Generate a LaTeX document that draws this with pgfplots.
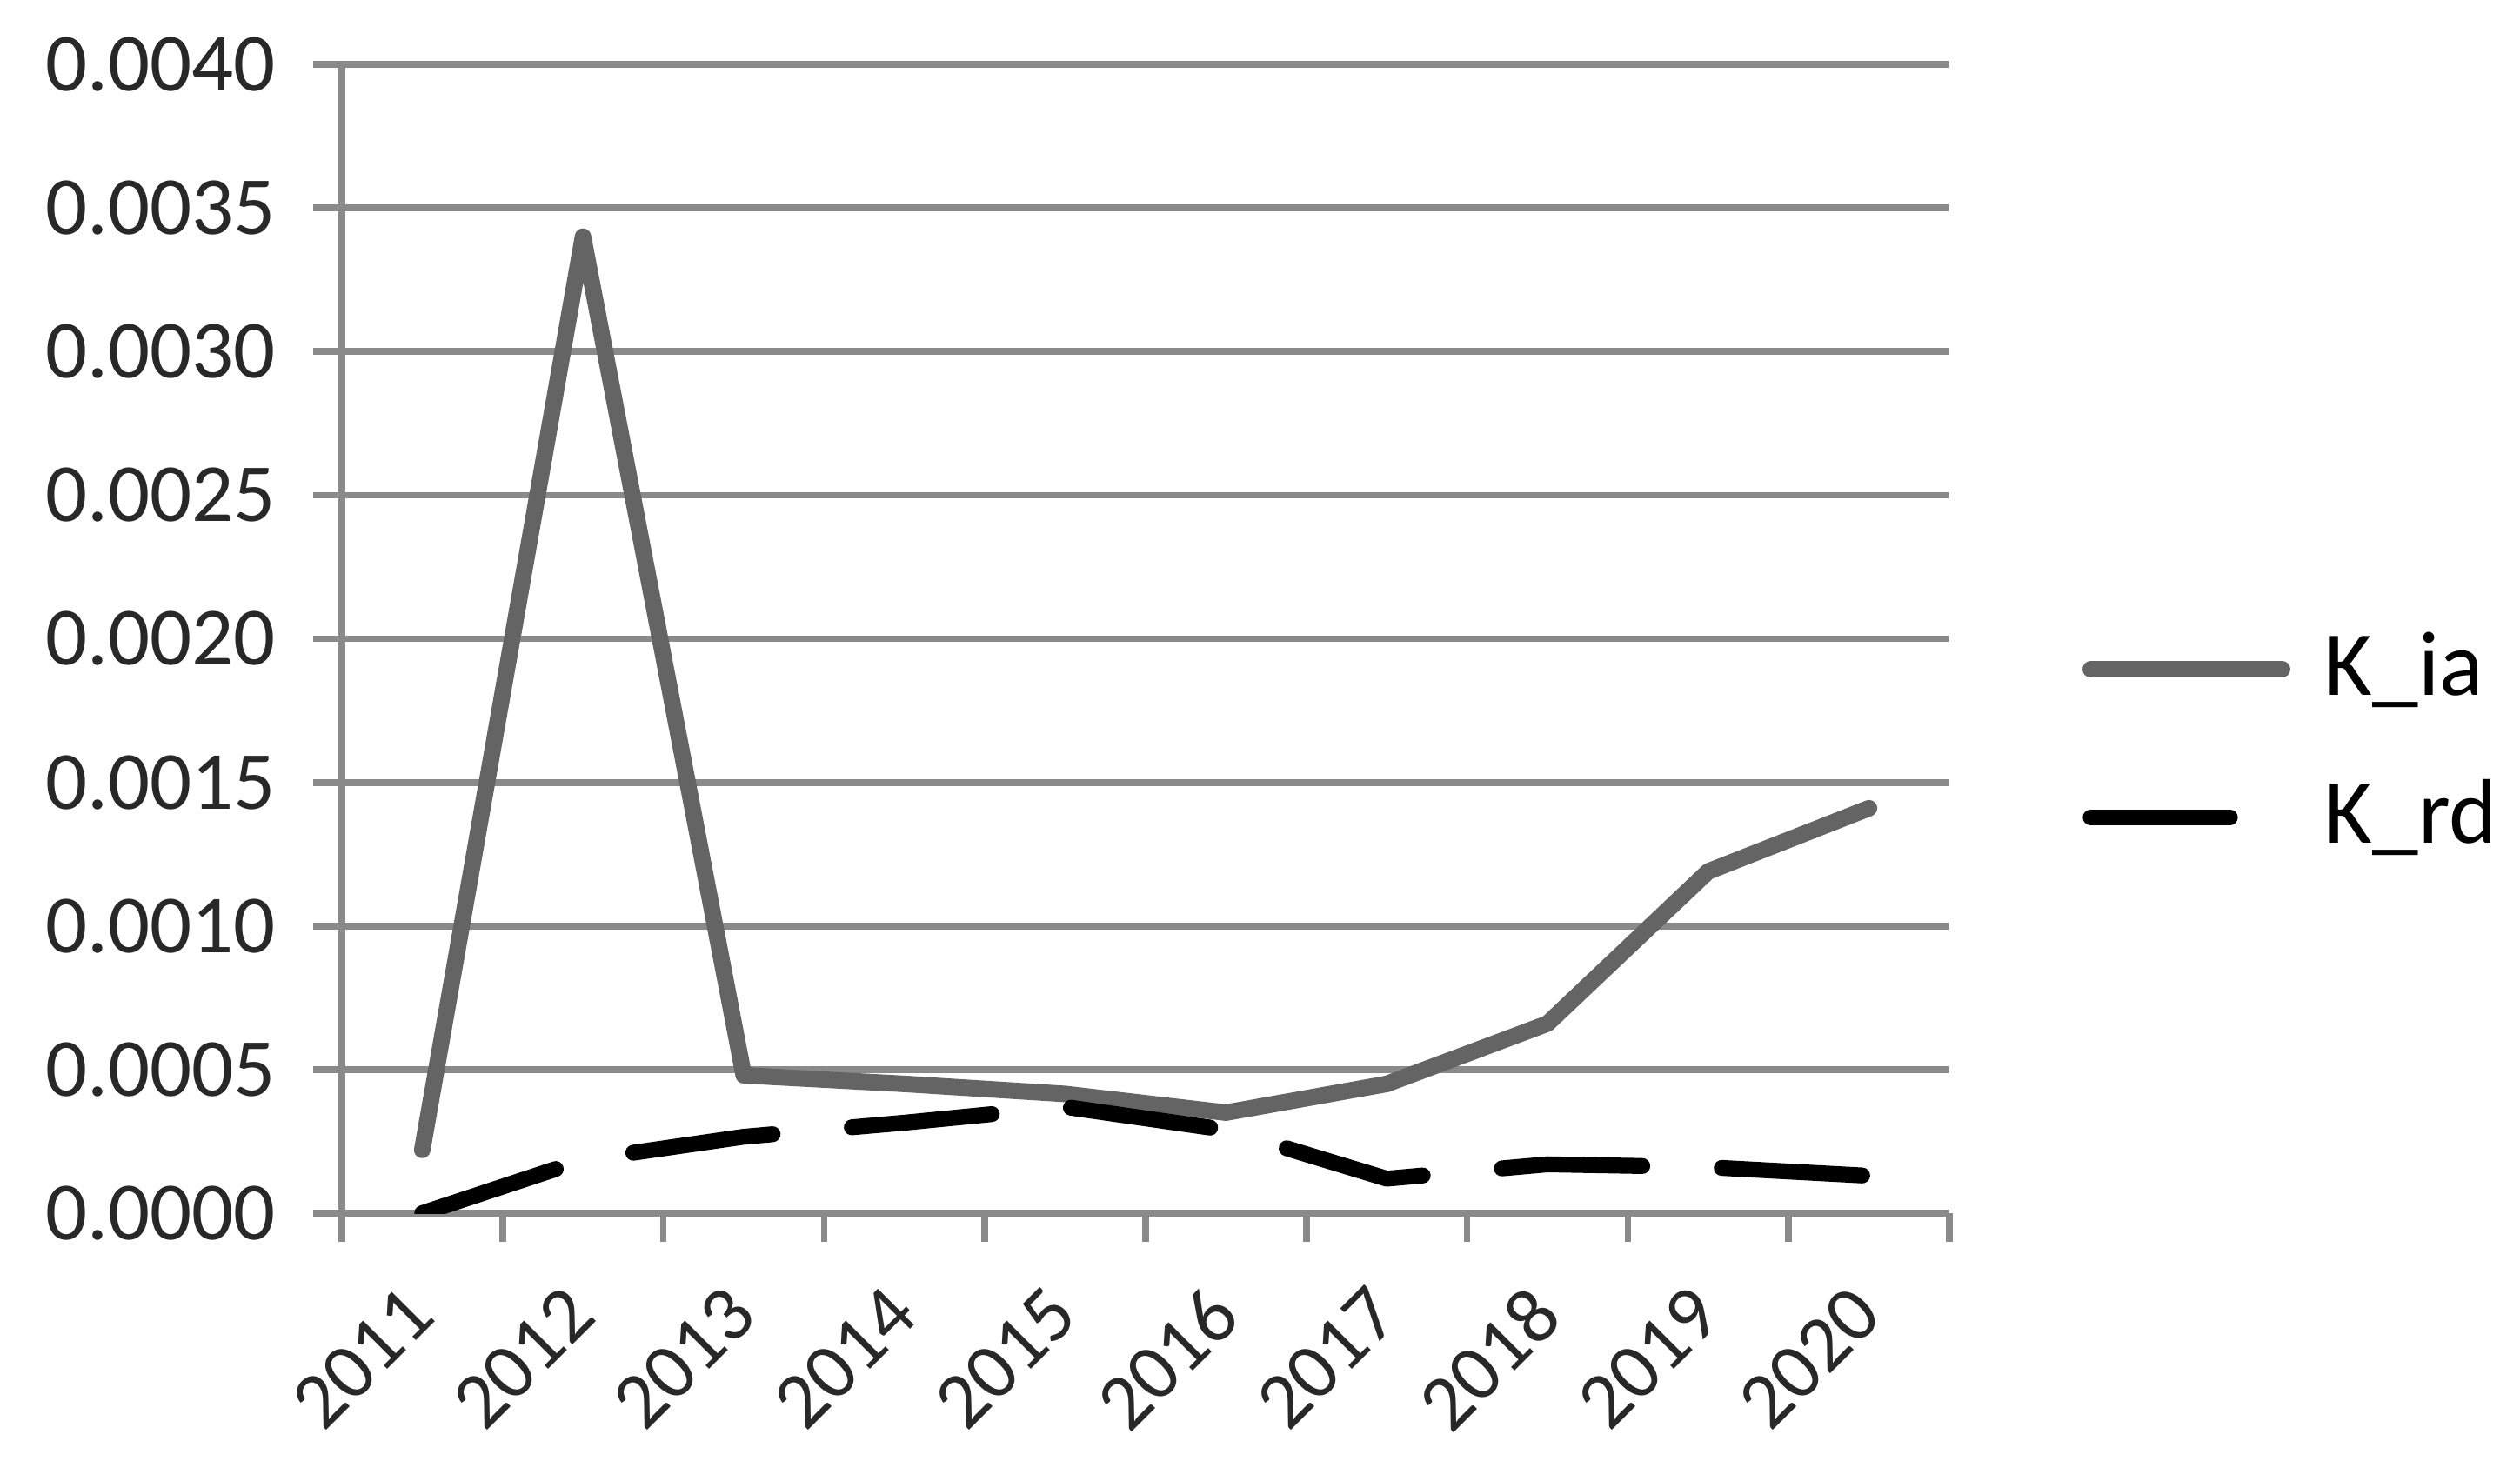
\documentclass[border=0pt]{standalone}
\usepackage{fontspec}
\setmainfont{Carlito}
\usepackage{pgfplots}
\pgfplotsset{compat=1.18}
\definecolor{gridgray}{RGB}{138,138,138}
\definecolor{iagray}{RGB}{100,100,100}
\definecolor{txt}{RGB}{40,40,40}
\pgfplotsset{shortlegend/.style={legend image code/.code={\draw[##1] (0cm,0cm) -- (0.8cm,0cm);}}}
\begin{document}
\begin{tikzpicture}
\begin{axis}[
  scale only axis, width=9.24cm, height=6.605cm,
  xmin=-0.5, xmax=9.5, ymin=0, ymax=0.004,
  axis lines=left,
  axis line style={-, draw=gridgray, line width=1.1pt},
  tick align=outside,
  major tick length=0.165cm, minor tick length=0.165cm,
  xtick={0,1,2,3,4,5,6,7,8,9},
  xticklabels={2011,2012,2013,2014,2015,2016,2017,2018,2019,2020},
  minor xtick={-0.5,0.5,1.5,2.5,3.5,4.5,5.5,6.5,7.5,8.5,9.5},
  major x tick style={draw=none},
  minor x tick style={draw=gridgray, line width=1.1pt},
  ytick={0,0.0005,0.001,0.0015,0.002,0.0025,0.003,0.0035,0.004},
  ytick style={draw=gridgray, line width=1.1pt},
  scaled y ticks=false,
  /pgf/number format/assume math mode=true,
  y tick label style={/pgf/number format/fixed, /pgf/number format/fixed zerofill, /pgf/number format/precision=4},
  yticklabel style={font=\fontsize{13.5}{15}\selectfont, text=txt, anchor=east, inner sep=0pt, xshift=-0.21cm},
  xticklabel style={font=\fontsize{13}{15}\selectfont, text=txt, inner sep=0pt, anchor=north east, xshift=-0.12cm, yshift=-0.225cm, rotate=45},
  ymajorgrids,
  grid style={draw=gridgray, line width=1.1pt},
  legend style={at={(1.082,0.409)}, anchor=west, draw=none, fill=none, inner sep=0pt,
    font=\fontsize{15}{17}\selectfont, row sep=0.35cm, column sep=0.2cm,
    nodes={inner sep=0pt, anchor=west, text height=0.4cm, text depth=0.1cm}},
  legend cell align=left,
  legend image code/.code={\draw[#1] (0cm,0cm) -- (1.1cm,0cm);},
]
\addplot[iagray, line width=2.7pt, line join=round, line cap=round] coordinates {
  (0,0.00022) (1,0.0034) (2,0.00048) (3,0.00045) (4,0.000415)
  (5,0.00035) (6,0.00045) (7,0.00066) (8,0.00119) (9,0.00141)
};
\addlegendentry{K\_ia}
\addplot[black, line width=2.6pt, line join=round, line cap=round, dash pattern=on 23pt off 13pt, shortlegend] coordinates {
  (0,0) (1,0.000185) (2,0.000266) (3,0.000315) (4,0.00037)
  (5,0.00029) (6,0.00012) (7,0.00017) (8,0.00016) (9,0.00013)
};
\addlegendentry{K\_rd}
\end{axis}
\pgfresetboundingbox
\path[use as bounding box] ([shift={(-1.965cm,-1.535cm)}]current axis.south west) rectangle ([shift={(3.28cm,0.37cm)}]current axis.north east);
\end{tikzpicture}
\end{document}
